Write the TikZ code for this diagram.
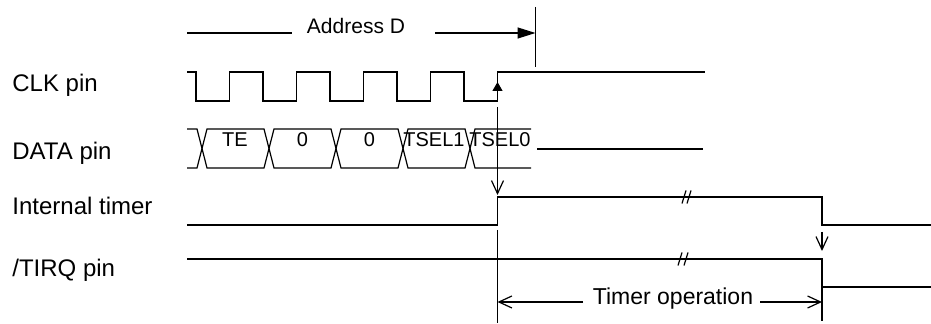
\documentclass[tikz,border=0pt]{standalone}
\usepackage{fontspec}
\setmainfont{Liberation Sans}
\usetikzlibrary{arrows.meta}

\begin{document}
\begin{tikzpicture}[x=0.5pt,y=-0.5pt]
\tikzset{
    signal/.style={line width=0.6pt, line join=miter},
    pinlabel/.style={anchor=base west, inner sep=0pt, font=\fontsize{12}{14}\selectfont},
    cell/.style={anchor=base, inner sep=0pt, font=\fontsize{10}{12}\selectfont},
    span/.style={anchor=base, inner sep=0pt, font=\fontsize{11.5}{13}\selectfont},
    openarrow/.style={-{Straight Barb[length=6.5pt, width=6pt]}, line width=0.6pt},
    fillarrow/.style={-{Triangle[length=9pt, width=5.5pt]}, line width=0.6pt},
    smallarrow/.style={-{Triangle[length=4.5pt, width=5pt]}, line width=0.6pt},
    brk/.style={line width=0.6pt}
}
\useasboundingbox (0,0) rectangle (931,324);

% Pin names
\node[pinlabel] (clk) at (12,92) {CLK pin};
\node[pinlabel] (data) at (12,160) {DATA pin};
\node[pinlabel] (timer) at (12,215) {Internal timer};
\node[pinlabel] (tirq) at (12,277) {/TIRQ pin};

% Address D span
\coordinate (a0) at (187,33);
\coordinate (a1) at (292,33);
\coordinate (a2) at (435,33);
\coordinate (a3) at (535.5,33);
\node[anchor=base, inner sep=0pt, font=\fontsize{10.5}{12}\selectfont] (addr) at (356,34) {Address D};
\draw[signal] (a0) -- (a1);
\draw[fillarrow] (a2) -- (a3);
\draw[signal] (535.5,7) -- (535.5,67);

% CLK waveform
\draw[signal] (187,72)
    foreach \f in {196,263,330,397,464} { -- (\f,72) -- (\f,101) -- (\f+33.5,101) -- (\f+33.5,72) }
    -- (705,72);
\coordinate (clkedge) at (497.5,82);
\draw[smallarrow] (497.5,101) -- (clkedge);

% DATA cells
\draw[signal] (187,129) -- (197,129) -- (202,148.5) -- (197,168) -- (187,168);
\foreach \a/\b in {202/269, 269/336, 336/403, 403/470}
    \draw[signal] (\a,148.5) -- (\a+5,129) -- (\b-5,129) -- (\b,148.5) -- (\b-5,168) -- (\a+5,168) -- cycle;
\draw[signal] (531,129) -- (475,129) -- (470,148.5) -- (475,168) -- (531,168);
\draw[signal] (537,149) -- (703,149);
\node[cell] (te) at (235,147) {TE};
\node[cell] (z1) at (302.5,147) {0};
\node[cell] (z2) at (369.5,147) {0};
\node[cell] (ts1) at (434,147) {TSEL1};
\node[cell] (ts0) at (500,147) {TSEL0};

% Internal timer and /TIRQ
\draw[signal] (187,225) -- (497.5,225) -- (497.5,197) -- (822,197) -- (822,225) -- (931,225);
\draw[signal] (187,259) -- (822,259) -- (822,287) -- (931,287);
\foreach \x/\y in {684/197, 689/197, 680/259, 686/259}
    \draw[brk] (\x-2,\y+6.5) -- (\x+2,\y-6.5);

% Trigger arrows
\draw[openarrow] (497.5,107) -- (497.5,195);
\draw[openarrow] (822,232) -- (822,251);

% Timer operation span
\coordinate (t0) at (497.5,302);
\coordinate (t1) at (583,302);
\coordinate (t2) at (760,302);
\coordinate (t3) at (822,302);
\draw[signal] (497.5,230) -- (497.5,323);
\draw[signal] (822,287) -- (822,321);
\node[span] (op) at (673,305) {Timer operation};
\draw[openarrow] (t1) -- (t0);
\draw[openarrow] (t2) -- (t3);
\end{tikzpicture}
\end{document}
